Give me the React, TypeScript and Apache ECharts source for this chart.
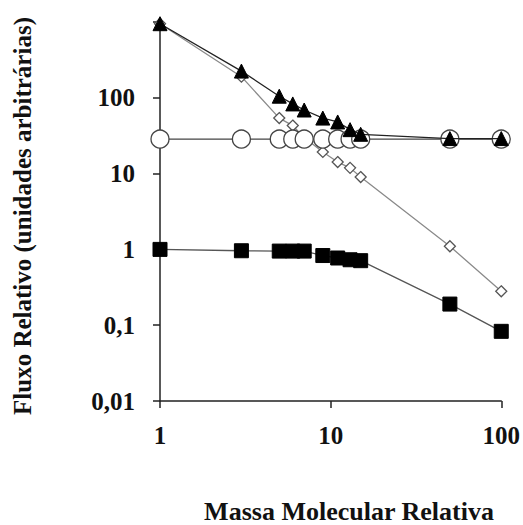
import React, { useEffect, useRef } from "react";
import * as echarts from "echarts";

const massValues = [1, 3, 5, 6, 7, 9, 11, 13, 15, 50, 100];
const triangleSeries = [950, 225, 105, 83, 69, 54, 48, 38, 33, 29, 29];
const circleSeries = [28.5, 28.5, 28.5, 28.5, 28.5, 28.5, 28.5, 28.5, 28.5, 28.5, 28.5];
const diamondSeries = [950, 190, 54, 43, 30, 19.3, 14.2, 11.9, 9.0, 1.1, 0.28];
const squareSeries = [1.0, 0.96, 0.95, 0.95, 0.95, 0.83, 0.77, 0.73, 0.71, 0.19, 0.083];
const yTickLabels: Record<string, string> = {
  "0.01": "0,01",
  "0.1": "0,1",
  "1": "1",
  "10": "10",
  "100": "100",
  "1000": "",
};

const FONT = "'Liberation Serif', 'Times New Roman', serif";

function pairs(ys: number[]) {
  return massValues.map((x, i) => [x, ys[i]]);
}

export default function App() {
  const ref = useRef<HTMLDivElement>(null);
  useEffect(() => {
    if (!ref.current) return;
    const chart = echarts.init(ref.current, null, { renderer: "svg" });
    chart.setOption({
      animation: false,
      backgroundColor: "#ffffff",
      grid: { left: 160, right: 20, top: 22, bottom: 124 },
      xAxis: {
        type: "log",
        logBase: 10,
        min: 1,
        max: 100,
        axisLine: { show: true, lineStyle: { color: "#222", width: 1.5 } },
        axisTick: { show: true, length: 7, inside: false, lineStyle: { color: "#222", width: 1.5 } },
        minorTick: { show: false },
        splitLine: { show: false },
        axisLabel: {
          margin: 22,
          color: "#111",
          fontFamily: FONT,
          fontWeight: "bold",
          fontSize: 25,
        },
      },
      yAxis: {
        type: "log",
        logBase: 10,
        min: 0.01,
        max: 1000,
        axisLine: { show: true, lineStyle: { color: "#222", width: 1.5 } },
        axisTick: { show: true, length: 7, inside: false, lineStyle: { color: "#222", width: 1.5 } },
        splitLine: { show: false },
        axisLabel: {
          margin: 25,
          color: "#111",
          fontFamily: FONT,
          fontWeight: "bold",
          fontSize: 25,
          formatter: (v: number) => {
            const key = String(Number(v.toPrecision(6)));
            return key in yTickLabels ? yTickLabels[key] : String(v).replace(".", ",");
          },
        },
      },
      series: [
        {
          name: "diamond",
          type: "line",
          data: pairs(diamondSeries),
          symbol: "diamond",
          symbolSize: 11,
          z: 2,
          lineStyle: { color: "#8a8a8a", width: 1.3 },
          itemStyle: { color: "#ffffff", borderColor: "#555", borderWidth: 1.3 },
        },
        {
          name: "circle",
          type: "line",
          data: pairs(circleSeries),
          symbol: "circle",
          symbolSize: 18,
          z: 3,
          lineStyle: { color: "#444", width: 1.3 },
          itemStyle: { color: "#ffffff", borderColor: "#444", borderWidth: 1.3 },
        },
        {
          name: "triangle",
          type: "line",
          data: pairs(triangleSeries),
          symbol: "triangle",
          symbolSize: 14,
          z: 4,
          lineStyle: { color: "#222", width: 1.3 },
          itemStyle: { color: "#000", borderColor: "#000", borderWidth: 1 },
        },
        {
          name: "square",
          type: "line",
          data: pairs(squareSeries),
          symbol: "rect",
          symbolSize: 14,
          z: 4,
          lineStyle: { color: "#555", width: 1.3 },
          itemStyle: { color: "#000", borderColor: "#000", borderWidth: 1 },
        },
      ],
      graphic: [
        {
          type: "text",
          x: 22,
          y: 216,
          rotation: Math.PI / 2,
          style: {
            text: "Fluxo Relativo (unidades arbitrárias)",
            fontFamily: FONT,
            fontWeight: "bold",
            fontSize: 25,
            fill: "#111",
            textAlign: "center",
            textVerticalAlign: "middle",
          },
        },
        {
          type: "text",
          x: 349,
          y: 511,
          style: {
            text: "Massa Molecular Relativa",
            fontFamily: FONT,
            fontWeight: "bold",
            fontSize: 26,
            fill: "#111",
            textAlign: "center",
            textVerticalAlign: "middle",
          },
        },
      ],
    });
    return () => chart.dispose();
  }, []);
  return (
    <div
      ref={ref}
      style={{ position: "absolute", left: 0, top: 0, width: 523, height: 525 }}
    />
  );
}
